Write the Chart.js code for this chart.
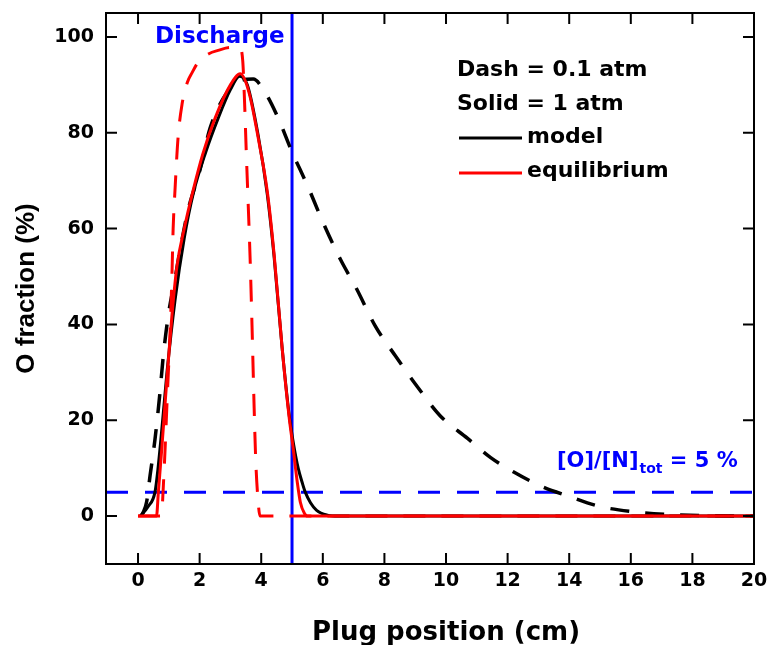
<!DOCTYPE html>
<html>
<head>
<meta charset="utf-8">
<script src="https://cdn.jsdelivr.net/npm/chart.js@4.4.0/dist/chart.umd.min.js"></script>
<style>
  html, body { margin: 0; padding: 0; background: #fff; }
</style>
</head>
<body>
<canvas id="chart" width="769" height="645"></canvas>
<script>
// O fraction vs plug position
const xTicks = [0, 2, 4, 6, 8, 10, 12, 14, 16, 18, 20];
const yTicks = [0, 20, 40, 60, 80, 100];

// model, 0.1 atm (black dashed)
const modelLowX = [0.1, 0.17, 0.28, 0.39, 0.55, 0.7, 0.82, 0.98, 1.2, 1.39, 1.63, 2.0, 2.34, 2.9, 3.3, 3.74, 4.07, 4.52, 5.0, 5.5, 6.0, 6.57, 7.1, 7.7, 8.36, 9.07, 9.8, 10.7, 11.45, 12.2, 13.1, 14.0, 15.0, 16.1, 17.2, 18.5, 20];
const modelLowY = [0, 0.8, 3, 8.4, 16, 25, 33.4, 41.8, 49.5, 56.4, 64, 72, 81, 88.5, 90.8, 91.2, 89, 83.5, 76, 69, 61.4, 53.6, 47.4, 39.7, 33.4, 27, 21, 16.2, 12.2, 9.2, 6.2, 4.1, 2.0, 0.9, 0.35, 0.1, 0];

// equilibrium, 0.1 atm (red dashed)
const eqLowX = [0, 0.75, 0.85, 0.95, 1.05, 1.1, 1.14, 1.2, 1.3, 1.43, 1.6, 1.76, 1.96, 2.3, 2.6, 3.0, 3.3, 3.4, 3.45, 3.52, 3.64, 3.7, 3.76, 3.82, 3.9, 3.96, 20];
const eqLowY = [0, 0, 10, 25, 40, 50, 60, 68, 79, 86, 90.5, 92.6, 94.8, 96.5, 97.2, 97.8, 97.8, 95, 88, 75, 53.6, 40, 25, 12, 3, 0, 0];

// model, 1 atm (black solid)
const modelHighX = [0.07, 0.33, 0.55, 0.65, 0.8, 0.94, 1.2, 1.5, 1.8, 2.2, 2.6, 3.0, 3.3, 3.55, 3.9, 4.2, 4.42, 4.68, 4.9, 5.05, 5.2, 5.33, 5.43, 5.6, 5.8, 6.15, 6.5, 20];
const modelHighY = [0, 2, 5, 10, 20, 30, 45, 58, 67.5, 76, 83, 89, 91.8, 90, 79.5, 67, 54, 35, 21.5, 15, 10, 7, 5, 2.8, 1.2, 0.2, 0, 0];

// equilibrium, 1 atm (red solid)
const eqHighX = [0, 0.6, 0.66, 0.77, 0.93, 1.1, 1.26, 1.5, 1.79, 2.1, 2.5, 3.0, 3.32, 3.6, 3.9, 4.2, 4.42, 4.68, 4.9, 5.04, 5.17, 5.27, 5.4, 5.5, 20];
const eqHighY = [0, 0, 5, 14, 28, 41.8, 52, 60, 68, 75.5, 83, 90, 92.3, 88.5, 79, 67.6, 54.5, 35, 21, 14, 7.1, 2.9, 0.6, 0, 0];

// reference lines
const dischargeX = [5, 5];
const dischargeY = [-10, 105];
const thresholdX = [-1.04, 20];
const thresholdY = [5, 5];

const pts = (xs, ys) => xs.map((x, i) => ({ x: x, y: ys[i] }));

const FONT = "'DejaVu Sans', sans-serif";
const BLUE = '#0000ff', RED = '#ff0000';

function line(data, color, dash, width) {
  return {
    data: data,
    borderColor: color,
    borderWidth: width || 3,
    borderDash: dash || [],
    pointRadius: 0,
    pointHoverRadius: 0,
    fill: false,
    cubicInterpolationMode: 'monotone'
  };
}

// inward ticks on all four sides plus the box
const frameTicks = {
  id: 'frameTicks',
  afterDraw(chart) {
    const { ctx, chartArea: a, scales: { x, y } } = chart;
    const len = 11;
    ctx.save();
    ctx.strokeStyle = '#000';
    ctx.lineWidth = 2;
    ctx.beginPath();
    x.ticks.forEach(t => {
      const px = x.getPixelForValue(t.value);
      ctx.moveTo(px, a.bottom); ctx.lineTo(px, a.bottom - len);
      ctx.moveTo(px, a.top); ctx.lineTo(px, a.top + len);
    });
    y.ticks.forEach(t => {
      const py = y.getPixelForValue(t.value);
      ctx.moveTo(a.left, py); ctx.lineTo(a.left + len, py);
      ctx.moveTo(a.right, py); ctx.lineTo(a.right - len, py);
    });
    ctx.stroke();
    ctx.strokeRect(a.left, a.top, a.right - a.left, a.bottom - a.top);
    ctx.restore();
  }
};

// text notes, x title and the small key
const notes = {
  id: 'notes',
  afterDraw(chart) {
    const ctx = chart.ctx;
    ctx.save();
    ctx.textBaseline = 'alphabetic';

    ctx.fillStyle = '#000';
    ctx.textAlign = 'center';
    ctx.font = `bold 26px ${FONT}`;
    ctx.fillText('Plug position (cm)', 446, 640);

    ctx.textAlign = 'left';
    ctx.fillStyle = BLUE;
    ctx.font = `bold 23px ${FONT}`;
    ctx.fillText('Discharge', 155, 43);

    ctx.font = `bold 21px ${FONT}`;
    let tx = 557;
    ctx.fillText('[O]/[N]', tx, 467);
    tx += ctx.measureText('[O]/[N]').width + 1;
    ctx.font = `bold 14px ${FONT}`;
    ctx.fillText('tot', tx, 473);
    tx += ctx.measureText('tot').width;
    ctx.font = `bold 21px ${FONT}`;
    ctx.fillText(' = 5 %', tx, 467);

    ctx.fillStyle = '#000';
    ctx.font = `bold 22px ${FONT}`;
    ctx.fillText('Dash = 0.1 atm', 457, 76);
    ctx.fillText('Solid = 1 atm', 457, 110);
    ctx.fillText('model', 527, 143);
    ctx.fillText('equilibrium', 527, 177);

    ctx.lineWidth = 3;
    ctx.strokeStyle = '#000';
    ctx.beginPath(); ctx.moveTo(459, 138); ctx.lineTo(522, 138); ctx.stroke();
    ctx.strokeStyle = RED;
    ctx.beginPath(); ctx.moveTo(459, 173); ctx.lineTo(522, 173); ctx.stroke();
    ctx.restore();
  }
};

new Chart(document.getElementById('chart'), {
  type: 'line',
  data: {
    datasets: [
      line(pts(eqHighX, eqHighY), RED),
      line(pts(modelHighX, modelHighY), '#000'),
      line(pts(eqLowX, eqLowY), RED, [22, 16]),
      line(pts(modelLowX, modelLowY), '#000', [19, 16], 3.5),
      line(pts(dischargeX, dischargeY), BLUE),
      line(pts(thresholdX, thresholdY), BLUE, [22, 17])
    ]
  },
  options: {
    responsive: false,
    animation: false,
    layout: { padding: { left: 0, right: 15, top: 13, bottom: 0 } },
    plugins: { legend: { display: false }, tooltip: { enabled: false } },
    scales: {
      x: {
        type: 'linear',
        min: -1.04,
        max: 20,
        afterBuildTicks: s => { s.ticks = xTicks.map(v => ({ value: v })); },
        afterFit: s => { s.height = 81; s.paddingLeft = 0; s.paddingRight = 0; },
        grid: { display: false, drawTicks: false },
        border: { display: false },
        ticks: { color: '#000', font: { family: FONT, size: 19, weight: 'bold' }, padding: 6, maxRotation: 0 },
        title: { display: false }
      },
      y: {
        type: 'linear',
        min: -10,
        max: 105,
        afterBuildTicks: s => { s.ticks = yTicks.map(v => ({ value: v })); },
        afterFit: s => { s.width = 106; s.paddingTop = 0; s.paddingBottom = 0; },
        grid: { display: false, drawTicks: false },
        border: { display: false },
        ticks: { color: '#000', font: { family: FONT, size: 19, weight: 'bold' }, padding: 12 },
        title: { display: true, text: 'O fraction (%)', color: '#000',
                 font: { family: "'Liberation Sans', Arial, sans-serif", size: 26, weight: 'bold', lineHeight: 1.0 },
                 padding: { top: 14, bottom: 0 } }
      }
    }
  },
  plugins: [frameTicks, notes]
});
</script>
</body>
</html>
